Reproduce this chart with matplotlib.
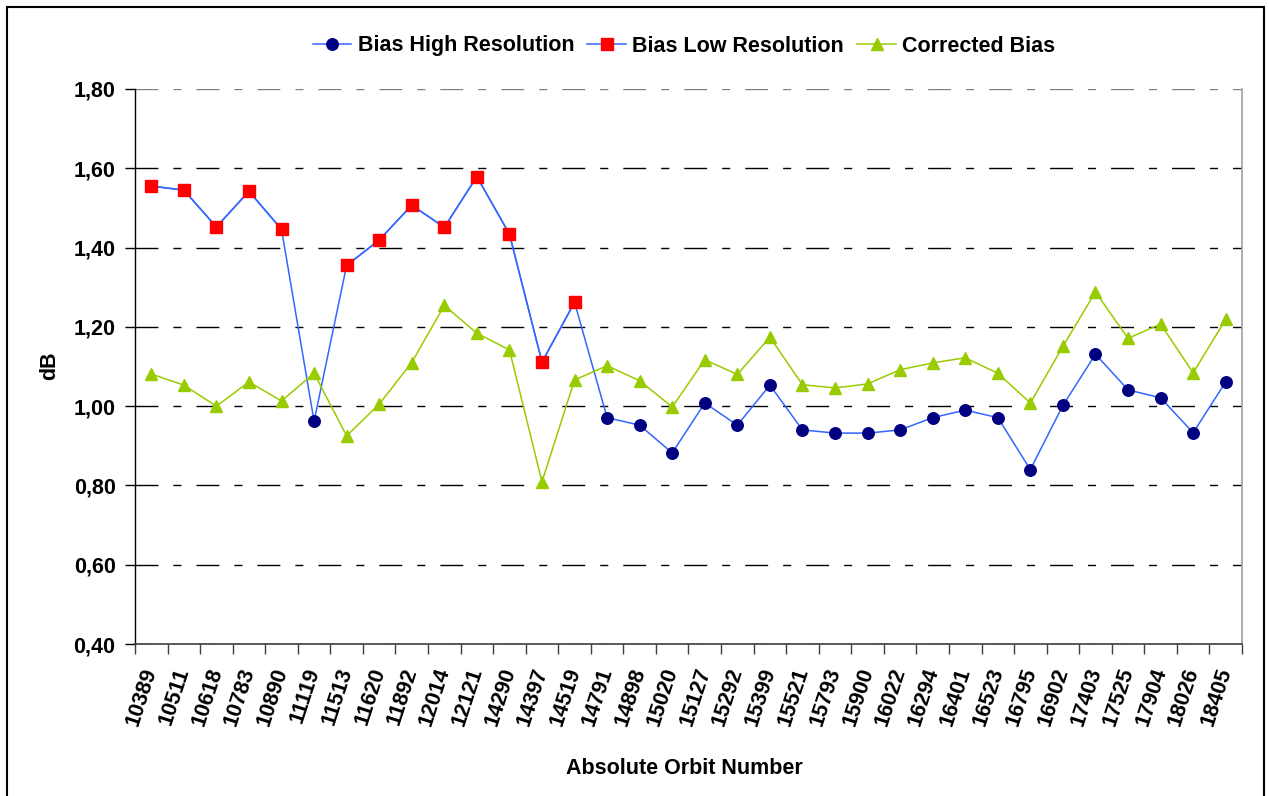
import matplotlib
matplotlib.use("Agg")
import matplotlib.pyplot as plt
import matplotlib.patches as patches
import numpy as np

orbits = ['10389', '10511', '10618', '10783', '10890', '11119', '11513', '11620',
          '11892', '12014', '12121', '14290', '14397', '14519', '14791', '14898',
          '15020', '15127', '15292', '15399', '15521', '15793', '15900', '16022',
          '16294', '16401', '16523', '16795', '16902', '17403', '17525', '17904',
          '18026', '18405']

bias_high = [1.555, 1.545, 1.452, 1.542, 1.446, 0.962, 1.355, 1.419, 1.507, 1.451,
             1.579, 1.434, 1.111, 1.262, 0.971, 0.952, 0.882, 1.008, 0.952, 1.053,
             0.940, 0.932, 0.932, 0.940, 0.971, 0.990, 0.971, 0.840, 1.002, 1.131,
             1.041, 1.021, 0.933, 1.061]

bias_low = [1.555, 1.545, 1.452, 1.542, 1.446, None, 1.355, 1.419, 1.507, 1.451,
            1.579, 1.434, 1.111, 1.262] + [None] * 20

corrected = [1.081, 1.053, 1.000, 1.061, 1.013, 1.083, 0.925, 1.005, 1.110, 1.254,
             1.184, 1.142, 0.809, 1.066, 1.102, 1.064, 0.998, 1.117, 1.080, 1.174,
             1.054, 1.046, 1.056, 1.092, 1.109, 1.122, 1.083, 1.008, 1.151, 1.288,
             1.171, 1.207, 1.084, 1.219]

y_ticks = [0.40, 0.60, 0.80, 1.00, 1.20, 1.40, 1.60, 1.80]

font = 'Liberation Sans'
fs = 15.5
plt.rcParams['font.family'] = [font, 'DejaVu Sans']
plt.rcParams['font.weight'] = 'bold'

fig = plt.figure(figsize=(12.69, 7.96), dpi=100)
ax = fig.add_axes([135 / 1269, 1 - 644 / 796, (1242 - 135) / 1269, (644 - 89) / 796])

x = np.arange(len(orbits))
low = np.array([np.nan if v is None else v for v in bias_low], dtype=float)

blue = '#3366FF'
ax.plot(x, bias_high, color=blue, lw=1.1, marker='o', ms=8.3,
        mfc='#000080', mec='#000080', label='Bias High Resolution', zorder=3)
ax.plot(x, low, color=blue, lw=1.1, marker='s', ms=8.2,
        mfc='#FF0000', mec='#FF0000', label='Bias Low Resolution', zorder=4)
ax.plot(x, corrected, color='#99CC00', lw=1.1, marker='^', ms=9,
        mfc='#99CC00', mec='#99CC00', label='Corrected Bias', zorder=3)

ax.set_xlim(-0.5, len(orbits) - 0.5)
ax.set_ylim(0.40, 1.80)
ax.set_yticks(y_ticks)
ax.set_yticklabels([f"{v:.2f}".replace('.', ',') for v in y_ticks],
                   fontsize=fs, fontweight='bold')

# category labels at centres, tick marks at boundaries
ax.set_xticks(x)
ax.set_xticklabels(orbits, rotation=72, ha='right', va='center',
                   rotation_mode='anchor', fontsize=fs, fontweight='bold')
ax.tick_params(axis='x', which='major', length=0, pad=17.5)
ax.set_xticks(np.arange(-0.5, len(orbits)), minor=True)
ax.tick_params(axis='x', which='minor', length=7, width=1, color='#404040')
ax.tick_params(axis='y', length=7, width=1, pad=7, color='black')

ax.yaxis.grid(True, color='black', lw=1, linestyle=(0, (16.5, 10.8, 5.8, 10.8)))
ax.get_ygridlines()[-1].set_color('#808080')
ax.set_axisbelow(True)

ax.spines['top'].set_visible(False)
ax.spines['right'].set_color('#A0A0A0')
ax.spines['right'].set_linewidth(1.2)
ax.spines['left'].set_color('black')
ax.spines['bottom'].set_color('#404040')
ax.spines['left'].set_linewidth(1)
ax.spines['bottom'].set_linewidth(1.2)

fig.text(684 / 1269, 1 - 768 / 796, 'Absolute Orbit Number', ha='center', va='center',
         fontsize=fs, fontweight='bold')
fig.text(50 / 1269, 1 - 366 / 796, 'dB', ha='center', va='center', rotation=90,
         fontsize=fs, fontweight='bold')

fig.legend(loc='center', bbox_to_anchor=(684 / 1269, 1 - 46 / 796), ncol=3,
           frameon=False, prop={'family': font, 'weight': 'bold', 'size': fs},
           handlelength=1.8, handletextpad=0.3, columnspacing=0.6)

fig.patches.append(patches.Rectangle((7 / 1269, -0.05), (1264 - 7) / 1269, 1.05 - 7 / 796,
                                     transform=fig.transFigure, fill=False,
                                     edgecolor='black', lw=1.5))

fig.savefig('out.png', dpi=100)
